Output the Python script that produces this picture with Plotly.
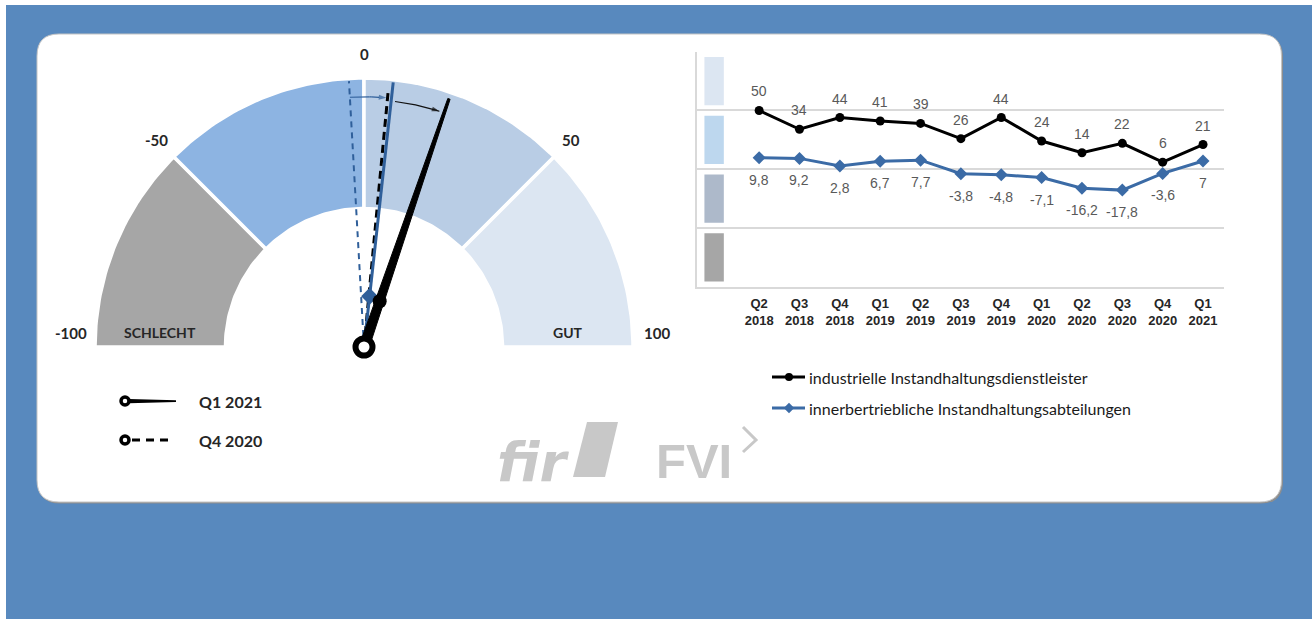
import math
import plotly.graph_objects as go

# ---------------- data ----------------
quarters = ["Q2", "Q3", "Q4", "Q1", "Q2", "Q3", "Q4", "Q1", "Q2", "Q3", "Q4", "Q1"]
years = ["2018", "2018", "2018", "2019", "2019", "2019", "2019", "2020", "2020", "2020", "2020", "2021"]
industrial = [50, 34, 44, 41, 39, 26, 44, 24, 14, 22, 6, 21]
internal = [9.8, 9.2, 2.8, 6.7, 7.7, -3.8, -4.8, -7.1, -16.2, -17.8, -3.6, 7]
series_names = ["industrielle Instandhaltungsdienstleister",
                "innerbertriebliche Instandhaltungsabteilungen"]
gauge_ticks = [-100, -50, 0, 50, 100]
gauge_band_colors = ["#A6A6A6", "#8DB4E2", "#B9CDE5", "#DCE6F2"]
chart_band_colors = ["#A6A6A6", "#ADB9CA", "#BDD7EE", "#DCE6F2"]
zone_labels = ["SCHLECHT", "GUT"]
needle_periods = ["Q1 2021", "Q4 2020"]

# ---------------- style / layout constants ----------------
W, H = 1312, 619
CX, CY, R = 364, 347, 269          # gauge centre and outer radius (px)
R_IN = 0.515                       # inner radius (fraction of R)
BG_BLUE = "#5889BE"
BLACK = "#000000"
LINE_BLUE = "#3B6BA6"
NEEDLE_BLUE = "#2F5F9A"
LOGO_GREY = "#C8C8C8"
LATO = "Lato, 'Open Sans', sans-serif"
ARIAL = "'Liberation Sans', Arial, sans-serif"

CH_X0, CH_X1 = 697, 1224           # line chart plot area (px)
CH_Y0, CH_Y1 = 51.7, 286.7
CH_XR = [-1.54, 11.52]


def theta(v):
    return math.pi / 2 - v / 100.0 * math.pi / 2


def polar(r, v):
    t = theta(v)
    return r * math.cos(t), r * math.sin(t)


def fmt(v):
    if float(v) == int(v):
        return str(int(v))
    return f"{v:.1f}".replace(".", ",")


fig = go.Figure()

# ---------------- background + card (pixel overlay axis x/y) ----------------
shapes = []
shapes.append(dict(type="rect", xref="x", yref="y", x0=6, y0=5, x1=W, y1=H,
                   fillcolor=BG_BLUE, line_width=0, layer="below"))


def rounded(x0, y0, x1, y1, r):
    return (f"M{x0+r},{y0} H{x1-r} Q{x1},{y0} {x1},{y0+r} V{y1-r} "
            f"Q{x1},{y1} {x1-r},{y1} H{x0+r} Q{x0},{y1} {x0},{y1-r} "
            f"V{y0+r} Q{x0},{y0} {x0+r},{y0} Z")


shapes.append(dict(type="path", xref="x", yref="y", path=rounded(38, 35.5, 1283, 503.5, 22),
                   fillcolor="#8E8E8E", line_width=0, layer="below"))
shapes.append(dict(type="path", xref="x", yref="y", path=rounded(37, 34, 1281.5, 502, 22),
                   fillcolor="#FFFFFF", line=dict(color="#C4C4C4", width=1), layer="below"))

# ---------------- gauge (axis x2/y2, units of R) ----------------
for i, col in enumerate(gauge_band_colors):
    a, b = gauge_ticks[i], gauge_ticks[i + 1]
    n = 40
    vs = [a + (b - a) * k / n for k in range(n + 1)]
    xs = [polar(1.0, v)[0] for v in vs] + [polar(R_IN, v)[0] for v in reversed(vs)]
    ys = [polar(1.0, v)[1] for v in vs] + [polar(R_IN, v)[1] for v in reversed(vs)]
    fig.add_trace(go.Scatter(x=xs + [xs[0]], y=ys + [ys[0]], xaxis="x2", yaxis="y2",
                             mode="lines", fill="toself", fillcolor=col,
                             line=dict(color="#FFFFFF", width=3.5),
                             hoverinfo="skip", showlegend=False))

q1_ind, q4_ind = industrial[-1], industrial[-2]
q1_int, q4_int = internal[-1], internal[-2]

# blue dashed needle (Q4 2020, internal)
x1, y1 = polar(0.99, q4_int)
fig.add_trace(go.Scatter(x=[0, x1], y=[0, y1], xaxis="x2", yaxis="y2", mode="lines",
                         line=dict(color=NEEDLE_BLUE, width=2, dash="6px,5px"),
                         hoverinfo="skip", showlegend=False))
# black dashed needle (Q4 2020, industrial)
x1, y1 = polar(0.96, q4_ind)
fig.add_trace(go.Scatter(x=[0, x1], y=[0, y1], xaxis="x2", yaxis="y2", mode="lines",
                         line=dict(color=BLACK, width=3, dash="8px,5px"),
                         hoverinfo="skip", showlegend=False))
# blue solid needle (Q1 2021, internal)
x1, y1 = polar(0.99, q1_int)
xm, ym = polar(0.19, q1_int)
fig.add_trace(go.Scatter(x=[0, x1], y=[0, y1], xaxis="x2", yaxis="y2", mode="lines",
                         line=dict(color=NEEDLE_BLUE, width=3),
                         hoverinfo="skip", showlegend=False))
fig.add_trace(go.Scatter(x=[xm], y=[ym], xaxis="x2", yaxis="y2", mode="markers",
                         marker=dict(symbol="diamond", size=13, color=NEEDLE_BLUE),
                         hoverinfo="skip", showlegend=False))
# black tapered solid needle (Q1 2021, industrial)
t = theta(q1_ind)
ux, uy = math.cos(t), math.sin(t)
px_, py_ = -uy, ux
hw0, hw1, L = 5.0 / R, 1.2 / R, 0.975
poly_x = [px_ * hw0, L * ux + px_ * hw1, L * ux - px_ * hw1, -px_ * hw0, px_ * hw0]
poly_y = [py_ * hw0, L * uy + py_ * hw1, L * uy - py_ * hw1, -py_ * hw0, py_ * hw0]
fig.add_trace(go.Scatter(x=poly_x, y=poly_y, xaxis="x2", yaxis="y2", mode="lines",
                         fill="toself", fillcolor=BLACK, line=dict(color=BLACK, width=1),
                         hoverinfo="skip", showlegend=False))
xm, ym = polar(0.18, q1_ind)
fig.add_trace(go.Scatter(x=[xm], y=[ym], xaxis="x2", yaxis="y2", mode="markers",
                         marker=dict(symbol="circle", size=14, color=BLACK),
                         hoverinfo="skip", showlegend=False))


# change arrows
def arc_arrow(r, v0, v1, color):
    n = 24
    vs = [v0 + (v1 - v0) * k / n for k in range(n + 1)]
    xs = [polar(r, v)[0] for v in vs]
    ys = [polar(r, v)[1] for v in vs]
    sizes = [0] * n + [8]
    fig.add_trace(go.Scatter(x=xs, y=ys, xaxis="x2", yaxis="y2", mode="lines+markers",
                             line=dict(color=color, width=1.2),
                             marker=dict(symbol="arrow", size=sizes, color=color,
                                         angleref="previous", line_width=0),
                             hoverinfo="skip", showlegend=False))


arc_arrow(0.93, q4_int, q1_int - 1.3, NEEDLE_BLUE)
arc_arrow(0.92, q4_ind + 2.0, q1_ind - 1.3, "#111111")

# pivot ring
fig.add_trace(go.Scatter(x=[0], y=[0], xaxis="x2", yaxis="y2", mode="markers",
                         marker=dict(symbol="circle", size=17, color="#FFFFFF",
                                     line=dict(color=BLACK, width=6)),
                         hoverinfo="skip", showlegend=False))

annotations = []
for tv in gauge_ticks:
    gx, gy = polar(1.09, tv)
    annotations.append(dict(x=gx, y=gy, xref="x2", yref="y2", text=str(tv), showarrow=False,
                            yshift=14 if abs(tv) == 100 else 0,
                            font=dict(family=LATO, size=15, color="#262626", weight="bold")))
for lab, band in zip(zone_labels, [0, 3]):
    edge = gauge_ticks[band] if band == 0 else gauge_ticks[band + 1]
    gx, _ = polar((1 + R_IN) / 2, edge)
    annotations.append(dict(x=gx, y=0, xref="x2", yref="y2", text=lab, showarrow=False,
                            yshift=15,
                            font=dict(family=LATO, size=14, color="#262626", weight="bold")))

# ---------------- gauge legend (pixel overlay) ----------------
fig.add_trace(go.Scatter(x=[132, 174], y=[440, 440], xaxis="x", yaxis="y", mode="lines",
                         line=dict(color=BLACK, width=3, dash="8px,6px"),
                         hoverinfo="skip", showlegend=False))
shapes.append(dict(type="path", xref="x", yref="y",
                   path="M129,399 L176,400.3 L176,401.9 L129,403.2 Z",
                   fillcolor=BLACK, line_width=0))
fig.add_trace(go.Scatter(x=[125, 125], y=[401, 440], xaxis="x", yaxis="y", mode="markers",
                         marker=dict(symbol="circle", size=8, color="#FFFFFF",
                                     line=dict(color=BLACK, width=3.5)),
                         hoverinfo="skip", showlegend=False))
for lab, yy in zip(needle_periods, [401, 440]):
    annotations.append(dict(x=197, y=yy, xref="x", yref="y", text=lab, showarrow=False,
                            xanchor="left",
                            font=dict(family=LATO, size=16, color="#262626", weight="bold")))

# ---------------- line chart (axis x3/y3) ----------------
xs_idx = list(range(len(quarters)))
for i, col in enumerate(chart_band_colors):
    shapes.append(dict(type="rect", xref="x3", yref="y3", x0=-1.356, x1=-0.875,
                       y0=gauge_ticks[i] + 4.5, y1=gauge_ticks[i + 1] - 4.5,
                       fillcolor=col, line_width=0, layer="below"))

fig.add_trace(go.Scatter(x=xs_idx, y=industrial, xaxis="x3", yaxis="y3", mode="lines+markers",
                         line=dict(color=BLACK, width=3),
                         marker=dict(symbol="circle", size=9, color=BLACK),
                         cliponaxis=False, hoverinfo="skip", showlegend=False))
fig.add_trace(go.Scatter(x=xs_idx, y=internal, xaxis="x3", yaxis="y3", mode="lines+markers",
                         line=dict(color=LINE_BLUE, width=3),
                         marker=dict(symbol="diamond", size=10, color=LINE_BLUE),
                         cliponaxis=False, hoverinfo="skip", showlegend=False))
for i, v in enumerate(industrial):
    annotations.append(dict(x=i, y=v, xref="x3", yref="y3", text=fmt(v), showarrow=False,
                            yshift=19, font=dict(family=ARIAL, size=14, color="#595959")))
for i, v in enumerate(internal):
    annotations.append(dict(x=i, y=v, xref="x3", yref="y3", text=fmt(v), showarrow=False,
                            yshift=-22, font=dict(family=ARIAL, size=14, color="#595959")))

# line chart legend (pixel overlay)
for name, col, sym, yy in zip(series_names, [BLACK, LINE_BLUE], ["circle", "diamond"], [377, 408]):
    fig.add_trace(go.Scatter(x=[772, 805], y=[yy, yy], xaxis="x", yaxis="y", mode="lines",
                             line=dict(color=col, width=3), hoverinfo="skip", showlegend=False))
    fig.add_trace(go.Scatter(x=[789], y=[yy], xaxis="x", yaxis="y", mode="markers",
                             marker=dict(symbol=sym, size=8, color=col),
                             hoverinfo="skip", showlegend=False))
    annotations.append(dict(x=807, y=yy, xref="x", yref="y", text=name, showarrow=False,
                            xanchor="left",
                            font=dict(family=LATO, size=16, color="#1A1A1A")))

# ---------------- logos ----------------
annotations.append(dict(x=533, y=462, xref="x", yref="y", text="fir", showarrow=False,
                        font=dict(family="'DejaVu Sans', sans-serif", size=54, color=LOGO_GREY,
                                  weight="bold", style="italic")))
shapes.append(dict(type="path", xref="x", yref="y",
                   path="M587,422 L618,422 L605,477 L573,477 Z",
                   fillcolor=LOGO_GREY, line_width=0))
annotations.append(dict(x=694, y=461, xref="x", yref="y", text="FVI", showarrow=False,
                        font=dict(family=ARIAL, size=49, color=LOGO_GREY, weight="bold")))
shapes.append(dict(type="path", xref="x", yref="y", path="M743,427 L756,440 L743,452",
                   line=dict(color=LOGO_GREY, width=3)))

# ---------------- layout ----------------
gx0 = (CX - 1.15 * R) / W
gx1 = (CX + 1.15 * R) / W
gy0 = 1 - (CY + 0.15 * R) / H
gy1 = 1 - (CY - 1.15 * R) / H

hidden = dict(visible=False, fixedrange=True, automargin=False)
fig.update_layout(
    width=W, height=H, margin=dict(l=0, r=0, t=0, b=0, autoexpand=False),
    paper_bgcolor="#FFFFFF", plot_bgcolor="rgba(0,0,0,0)",
    hovermode=False, showlegend=False,
    shapes=shapes, annotations=annotations,
    xaxis=dict(domain=[0, 1], range=[0, W], anchor="y", **hidden),
    yaxis=dict(domain=[0, 1], range=[H, 0], anchor="x", **hidden),
    xaxis2=dict(domain=[gx0, gx1], range=[-1.15, 1.15], anchor="y2", **hidden),
    yaxis2=dict(domain=[gy0, gy1], range=[-0.15, 1.15], anchor="x2", **hidden),
    xaxis3=dict(domain=[CH_X0 / W, CH_X1 / W], range=CH_XR, anchor="y3", tickmode="array",
                tickvals=xs_idx, ticktext=[f"{q}<br>{y}" for q, y in zip(quarters, years)],
                showgrid=False, zeroline=False, showline=True, linecolor="#D9D9D9",
                linewidth=2, ticks="", ticklabelstandoff=4, automargin=False,
                tickfont=dict(family=ARIAL, size=13, color="#262626", weight="bold"),
                fixedrange=True),
    yaxis3=dict(domain=[1 - CH_Y1 / H, 1 - CH_Y0 / H], range=[-100, 100], anchor="x3",
                tickmode="array", tickvals=gauge_ticks, showticklabels=False, showgrid=True,
                gridcolor="#D9D9D9", gridwidth=2, zeroline=False, showline=True,
                linecolor="#D9D9D9", linewidth=2, ticks="", automargin=False,
                fixedrange=True),
)

fig.write_html("out.html", config={"displayModeBar": False, "staticPlot": True},
               post_script="document.body.style.margin='0px';document.body.style.overflow='hidden';")
